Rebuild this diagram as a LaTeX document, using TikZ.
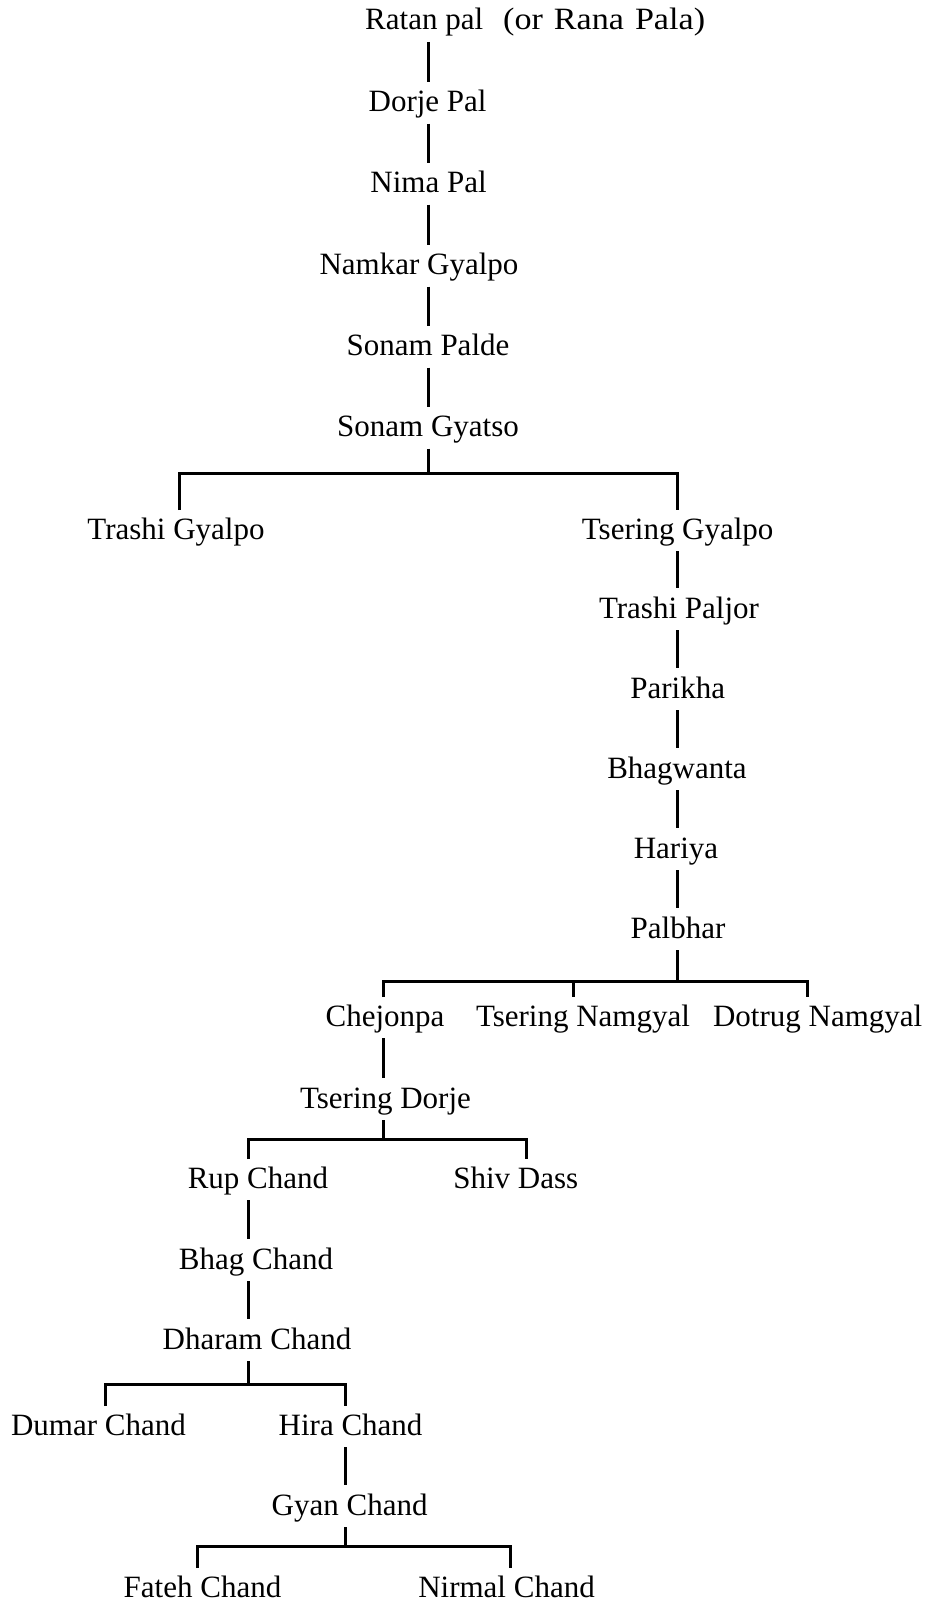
\documentclass[tikz,border=0pt]{standalone}
\usepackage{fontspec}
\setmainfont{Liberation Serif}
\newfontfamily\widefont[FakeStretch=1.1]{Liberation Serif}
\begin{document}
\begin{tikzpicture}[x=1pt,y=-1pt,
  person/.style={anchor=base,inner sep=0pt,font=\fontsize{31}{37}\selectfont},
  link/.style={line width=3pt,line cap=butt}]
\useasboundingbox (0,0) rectangle (932,1608);

% ---- names ----
\node[person,anchor=base west] (ratan) at (365,30) {Ratan pal};
\node[person,anchor=base west] (rana) at (503,30)
  {\widefont\fontsize{31}{37}\selectfont\spaceskip=11pt (or Rana Pala)};
\node[person] (dorje) at (427.6,111.6) {Dorje Pal};
\node[person] (nima) at (428.6,192.6) {Nima Pal};
\node[person] (namkar) at (419,274.6) {Namkar Gyalpo};
\node[person] (palde) at (428,355.6) {Sonam Palde};
\node[person] (gyatso) at (428,436.6) {Sonam Gyatso};
\node[person] (trashig) at (176,539) {Trashi Gyalpo};
\node[person] (tseringg) at (677.7,539) {Tsering Gyalpo};
\node[person] (paljor) at (679,618) {Trashi Paljor};
\node[person] (parikha) at (677.7,698) {Parikha};
\node[person] (bhagwanta) at (677,778) {Bhagwanta};
\node[person] (hariya) at (676,858) {Hariya};
\node[person] (palbhar) at (678,938) {Palbhar};
\node[person] (chejonpa) at (385,1026) {Chejonpa};
\node[person] (tseringn) at (583,1026) {Tsering Namgyal};
\node[person] (dotrug) at (817.7,1026) {Dotrug Namgyal};
\node[person] (tseringd) at (385.5,1108) {Tsering Dorje};
\node[person] (rup) at (258,1188) {Rup Chand};
\node[person] (shiv) at (515.7,1188) {Shiv Dass};
\node[person] (bhag) at (256,1269) {Bhag Chand};
\node[person] (dharam) at (257,1349) {Dharam Chand};
\node[person] (dumar) at (98.4,1435) {Dumar Chand};
\node[person] (hira) at (350.6,1435) {Hira Chand};
\node[person] (gyan) at (349.6,1515) {Gyan Chand};
\node[person] (fateh) at (202.5,1597) {Fateh Chand};
\node[person] (nirmal) at (506.5,1597) {Nirmal Chand};

% ---- line positions ----
\coordinate (t1) at (428.6,0);
\coordinate (t2) at (677.7,0);
\coordinate (t3) at (383.5,0);
\coordinate (t4) at (248,0);
\coordinate (t5) at (345.5,0);
% sibling bars
\coordinate (b1l) at (179.4,473.7);  \coordinate (b1r) at (677.7,473.7);
\coordinate (b1m) at (428.6,473.7);
\coordinate (b2l) at (383.5,981);    \coordinate (b2m) at (573,981);
\coordinate (b2r) at (807,981);      \coordinate (b2p) at (677.7,981);
\coordinate (b3l) at (248,1139);     \coordinate (b3r) at (526,1139);
\coordinate (b3p) at (383.5,1139);
\coordinate (b4l) at (105.6,1384);   \coordinate (b4r) at (345.5,1384);
\coordinate (b4p) at (248,1384);
\coordinate (b5l) at (197,1546);     \coordinate (b5r) at (510.6,1546);
\coordinate (b5p) at (345.5,1546);

% ---- single descent ----
\foreach \a/\b/\t in {ratan/dorje/t1,dorje/nima/t1,nima/namkar/t1,
    namkar/palde/t1,palde/gyatso/t1,
    tseringg/paljor/t2,paljor/parikha/t2,parikha/bhagwanta/t2,
    bhagwanta/hariya/t2,hariya/palbhar/t2,
    chejonpa/tseringd/t3,rup/bhag/t4,bhag/dharam/t4,hira/gyan/t5}
  \draw[link] ([yshift=-12pt]\a.base -| \t) -- ([yshift=30pt]\b.base -| \t);

% ---- branching ----
\draw[link] ([yshift=-12pt]gyatso.base -| b1m) -- (b1m);
\draw[link] ([yshift=29pt]trashig.base -| b1l) -- (b1l) -- (b1r)
            -- ([yshift=29pt]tseringg.base -| b1r);

\draw[link] ([yshift=-12pt]palbhar.base -| b2p) -- (b2p);
\draw[link] ([yshift=29pt]chejonpa.base -| b2l) -- (b2l) -- (b2r)
            -- ([yshift=29pt]dotrug.base -| b2r);
\draw[link] (b2m) -- ([yshift=29pt]tseringn.base -| b2m);

\draw[link] ([yshift=-12pt]tseringd.base -| b3p) -- (b3p);
\draw[link] ([yshift=29pt]rup.base -| b3l) -- (b3l) -- (b3r)
            -- ([yshift=29pt]shiv.base -| b3r);

\draw[link] ([yshift=-12pt]dharam.base -| b4p) -- (b4p);
\draw[link] ([yshift=29pt]dumar.base -| b4l) -- (b4l) -- (b4r)
            -- ([yshift=29pt]hira.base -| b4r);

\draw[link] ([yshift=-12pt]gyan.base -| b5p) -- (b5p);
\draw[link] ([yshift=29pt]fateh.base -| b5l) -- (b5l) -- (b5r)
            -- ([yshift=29pt]nirmal.base -| b5r);
\end{tikzpicture}
\end{document}
